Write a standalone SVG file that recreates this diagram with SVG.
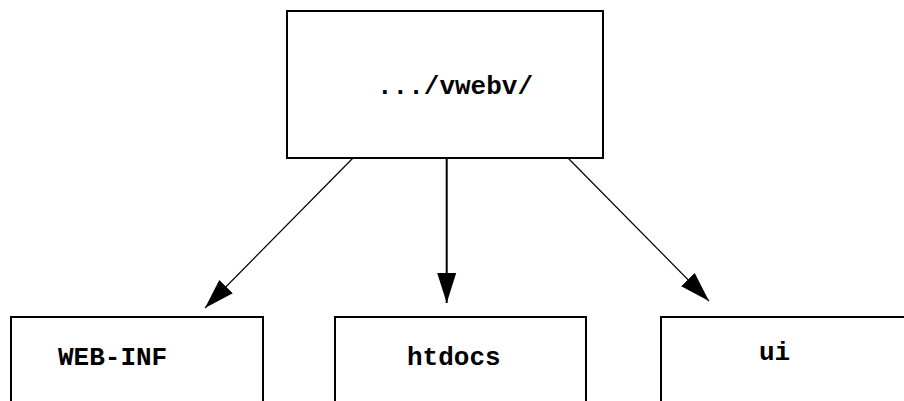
<svg xmlns="http://www.w3.org/2000/svg" width="904" height="401" viewBox="0 0 904 401">
<style>
.box{fill:#fff;stroke:#000;stroke-width:2}
.lbl{font-family:"Liberation Mono","Courier New",monospace;font-weight:bold;font-size:26px;fill:#000}
.edge{stroke:#000;stroke-width:1.2;fill:none}
.edge.v{stroke-width:2}
</style>
<defs>
<marker id="ah" markerUnits="userSpaceOnUse" markerWidth="31" markerHeight="20" refX="30" refY="10" orient="auto" viewBox="0 0 31 20">
<path d="M0,0.5 L30,10 L0,19.5 z" fill="#000"/>
</marker>
</defs>
<rect width="904" height="401" fill="#fff"/>
<g id="connectors">
<line class="edge" x1="353" y1="158" x2="205" y2="308" marker-end="url(#ah)"/>
<line class="edge v" x1="446.7" y1="158" x2="446.7" y2="303" marker-end="url(#ah)"/>
<line class="edge" x1="568" y1="158" x2="709" y2="301" marker-end="url(#ah)"/>
</g>
<g id="node-vwebv">
<rect class="box" x="287" y="11" width="316" height="147"/>
<text class="lbl" x="377" y="94">.../vwebv/</text>
</g>
<g id="node-webinf">
<rect class="box" x="11" y="317" width="252" height="100"/>
<text class="lbl" x="58" y="365">WEB-INF</text>
</g>
<g id="node-htdocs">
<rect class="box" x="335" y="317" width="251" height="100"/>
<text class="lbl" x="407" y="365">htdocs</text>
</g>
<g id="node-ui">
<rect class="box" x="661" y="317" width="260" height="100"/>
<text class="lbl" x="759" y="360">ui</text>
</g>
</svg>
